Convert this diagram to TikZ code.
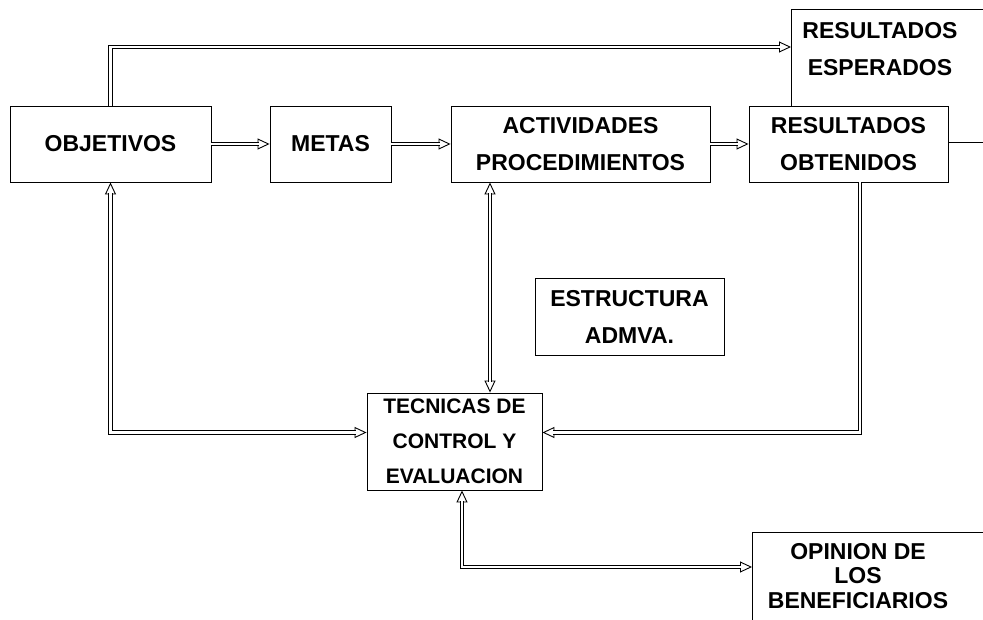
\documentclass[tikz,border=0pt]{standalone}
\usepackage{fontspec}
\setmainfont{Liberation Sans}
\usetikzlibrary{arrows.meta,calc}
\begin{document}
\begin{tikzpicture}[x=1pt,y=-1pt,
  box/.style={draw, line width=0.9pt, inner sep=0pt, align=center,
    font=\fontsize{23}{37}\selectfont\bfseries},
  lbl/.style={inner sep=0pt, align=center, font=\fontsize{23}{37}\selectfont\bfseries},
  thin/.style={line width=0.9pt},
  tip/.tip={Triangle[fill=white, length=12pt, width=11pt, line width=0.9pt]},
  tipend/.style={line width=0.9pt, -tip},
  tipboth/.style={line width=0.9pt, tip-tip},
  dbl/.style={draw=black, double=white, double distance=2.4pt, line width=0.9pt,
    line join=miter, shorten >=11pt},
  dblb/.style={dbl, shorten <=11pt}
]
\useasboundingbox (0,0) rectangle (983,620);
% boxes
\node[box, minimum width=201pt, minimum height=76pt] (obj) at (110.5,144) {OBJETIVOS};
\node[box, minimum width=121pt, minimum height=76pt] (met) at (330.5,144) {METAS};
\node[box, minimum width=259pt, minimum height=76pt] (act) at (580.5,144) {ACTIVIDADES\\PROCEDIMIENTOS};
\node[box, minimum width=199pt, minimum height=76pt] (reso) at (848.5,144) {RESULTADOS\\OBTENIDOS};
\node[box, minimum width=189pt, minimum height=77pt] (estr) at (629.5,316.5) {ESTRUCTURA\\ADMVA.};
\node[box, minimum width=175pt, minimum height=97pt, font=\fontsize{21}{35}\selectfont\bfseries] (tec) at (454.5,441.5) {TECNICAS DE\\CONTROL Y\\EVALUACION};
% open boxes
\coordinate (eTR) at (983,9);
\coordinate (eTL) at (791,9);
\coordinate (eBL) at (791,106);
\draw[thin] (eTR) -- (eTL) -- (eBL);
\node[lbl] (rese) at (880,49) {RESULTADOS\\ESPERADOS};
\coordinate (oTR) at (983,532);
\coordinate (oTL) at (752,532);
\coordinate (oBL) at (752,620);
\draw[thin] (oTR) -- (oTL) -- (oBL);
\node[lbl, font=\fontsize{23}{24.5}\selectfont\bfseries] (opin) at (858,576) {OPINION DE\\LOS\\BENEFICIARIOS};
\coordinate (rEnd) at (983,142);
\draw[thin] (reso.east |- rEnd) -- (rEnd);
% arrows
\coordinate (eIn) at (791,47);
\coordinate (ax) at (490,0);
\coordinate (rx) at (860,0);
\coordinate (bx) at (462,0);
\coordinate (oIn) at (752,567);
% tips first
\draw[tipend] (obj.north) |- (eIn);
\draw[tipend] (obj.east) -- (met.west);
\draw[tipend] (met.east) -- (act.west);
\draw[tipend] (act.east) -- (reso.west);
\draw[tipboth] (obj.south) |- ([yshift=9pt]tec.west);
\draw[tipboth] (act.south -| ax) -- (tec.north -| ax);
\draw[tipend] (reso.south -| rx) |- ([yshift=9pt]tec.east);
\draw[tipboth] (tec.south -| bx) |- (oIn);
% double shafts
\draw[dbl] (obj.north) |- (eIn);
\draw[dbl] (obj.east) -- (met.west);
\draw[dbl] (met.east) -- (act.west);
\draw[dbl] (act.east) -- (reso.west);
\draw[dblb] (obj.south) |- ([yshift=9pt]tec.west);
\draw[dblb] (act.south -| ax) -- (tec.north -| ax);
\draw[dbl] (reso.south -| rx) |- ([yshift=9pt]tec.east);
\draw[dblb] (tec.south -| bx) |- (oIn);
\end{tikzpicture}
\end{document}
